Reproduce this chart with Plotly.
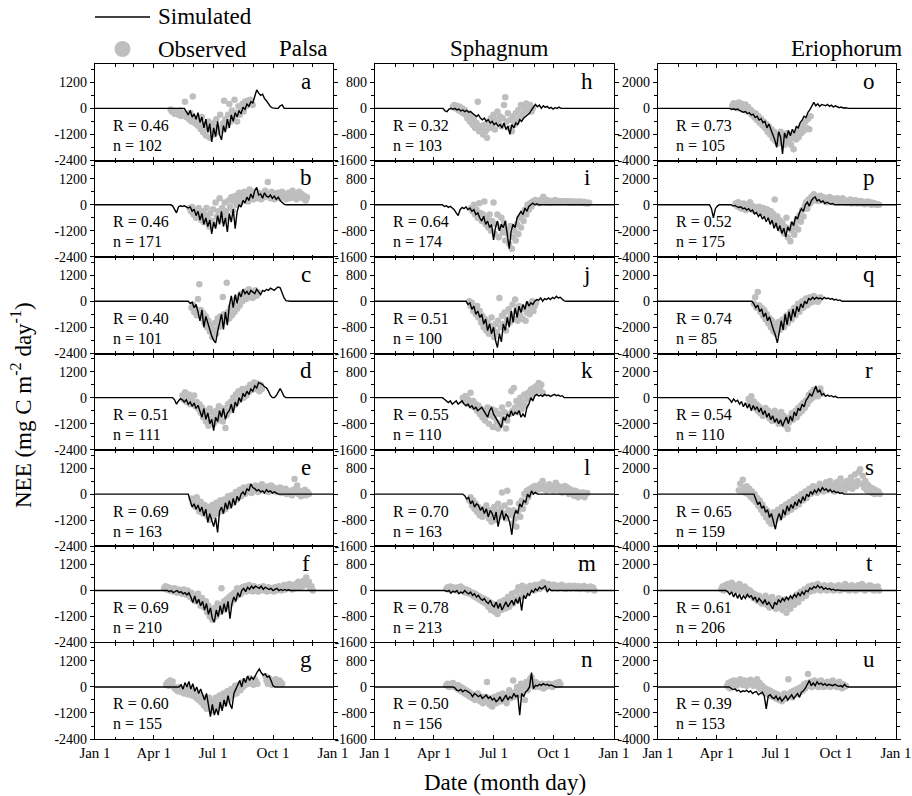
import plotly.graph_objects as go

# ---------------------------------------------------------------- data
# Day-of-year axis
DAY_TICKS = [1, 91, 182, 274, 366]
DAY_LABELS = ["Jan 1", "Apr 1", "Jul 1", "Oct 1", "Jan 1"]
MONTH_STARTS = [32, 60, 121, 152, 213, 244, 305, 335]

SIM_STEP = 3   # days between simulated values
OBS_STEP = 2   # days between observed values

sites = ["Palsa", "Sphagnum", "Eriophorum"]
letters = list("abcdefghijklmnopqrstu")
r_values = [0.46, 0.46, 0.40, 0.51, 0.69, 0.69, 0.60,
            0.32, 0.64, 0.51, 0.55, 0.70, 0.78, 0.50,
            0.73, 0.52, 0.74, 0.54, 0.65, 0.61, 0.39]
n_values = [102, 171, 101, 111, 163, 210, 155,
            103, 174, 100, 110, 163, 213, 156,
            105, 175, 85, 110, 159, 206, 153]

y_ticks = [[-2400, -1200, 0, 1200], [-1600, -800, 0, 800], [-4000, -2000, 0, 2000]]

# --- Palsa
sim_a_start = 138
sim_a = [0, -150, -300, -100, -400, -250, -500, -200, -650, -400, -900, -500, -1100, -700, -1550, -900, -1300, -600,
         -1200, -1450, -800, -1100, -500, -900, -300, -600, -200, -400, -100, -250, 50, -50, 200, 100, 300, 250, 500,
         850, 700, 600, 650, 450, 350, 200, 80, 20, 0, 0, 0, 120, 160, 0]
obs_a_start = 117
obs_a = [-50, -150, -100, -250, -150, -200, -300, -100, -350, -200, -250, 300, -400, -300, -500, -200, -600, 550,
         -450, -700, -550, -800, -650, -950, -400, -1100, -750, -1250, -900, -600, -1350, -1000, -700, -1200, -850,
         -500, -1100, -900, -300, -1000, -700, 350, -500, -800, -300, 200, -600, -100, -400, 400, -200, -600, 100,
         -300, 0, 200, -150, 300, 100, 350, 200, 400, 250, 150]

sim_b_start = 117
sim_b = [0, -50, -200, -370, -100, -50, -80, -50, -100, -150, -100, -300, -200, -500, -300, -700, -400, -900, -600,
         -1000, -700, -1340, -800, -1100, -500, -900, -300, -1000, -600, -1250, -400, -800, -200, -1100, -300, 0, -100,
         200, 100, 350, 200, 500, 300, 650, 800, 450, 500, 300, 550, 400, 350, 450, 300, 400, 250, 350, 200, 100, 30,
         0, 0]
obs_b_start = 146
obs_b = [-150, -300, -100, -450, -250, -600, -350, -150, -500, -700, -300, -800, -450, -150, -650, -1000, -400, -750,
         -200, -900, 100, -550, -300, 300, -700, -150, -450, 100, -300, -600, 200, -100, 350, -250, 150, 400, 0, 250,
         550, 100, 400, 200, 600, 300, 450, 150, 700, 350, 500, 250, 600, 400, 300, 550, 450, 250, 500, 350, 650, 400,
         1050, 500, 300, 600, 400, 250, 500, 350, 550, 300, 450, 600, 350, 500, 250, 450, 550, 300, 400, 650, 350, 500,
         250, 450, 600, 350, 500, 300, 400, 200, 350]

sim_c_start = 144
sim_c = [0, -100, -50, -300, -150, -500, -900, -400, -1200, -700, -1000, -1400, -1600, -1800, -1920, -1400, -1000,
         -600, -1300, -500, -1100, -200, 250, -300, 300, -100, 400, 200, 550, 350, 450, 300, 500, 400, 350, 550, 450,
         300, 500, 450, 550, 500, 600, 550, 500, 600, 650, 620, 400, 150, 30, 0, 0]
obs_c_start = 149
obs_c = [-300, -150, -500, -350, -650, 100, 780, -400, -800, -550, -1000, -700, -1200, -900, -1400, -1100, -1650,
         -1300, -1000, -1500, -800, -1200, -700, -1050, 200, -600, -900, 850, -500, -800, -300, -650, -150, -500, 100,
         -350, 200, -200, 350, 0, 250, 450, 100, 300, 550, 200, 400, 150, 350, 500, 250, 400]

sim_d_start = 120
sim_d = [0, -100, -300, -150, -50, -100, -200, -100, -300, -200, -400, -250, -500, -350, -600, -900, -500, -1000,
         -700, -1200, -1000, -1520, -900, -1100, -600, -900, -500, -1000, -700, -600, -300, -700, -200, -400, 0, -200,
         200, 50, 300, 150, 400, 300, 550, 450, 700, 650, 600, 500, 450, 300, 100, 0, 0, 100, 300, 420, 250, 50, 0]
obs_d_start = 135
obs_d = [100, -100, 250, -200, 0, 150, -300, -100, -250, 100, -400, -200, -500, -300, -700, -450, -900, -600, -1100,
         -800, -1300, -500, -1000, -700, -1200, -850, -600, -1050, -400, -900, -700, -1100, -500, -1400, -800, -300,
         -600, -200, -500, 0, -350, 150, -200, 300, -100, 200, 400, 0, 300, 100, 450, 250, 600, 350, 550, 700, 400,
         650, 500, 300, 600, 400]

sim_e_start = 144
sim_e = [0, -300, -600, -450, -700, -500, -800, -600, -1000, -700, -1300, -900, -1200, -1500, -1100, -1770, -800,
         -600, -900, -400, -700, -300, -650, -200, -500, -100, -300, 0, 100, -50, 250, 150, 470, 300, 250, 150, 200,
         100, 150, 50, 200, 100, 150, 50, 100, 30, 0, 0, 0]
obs_e_start = 149
obs_e = [-200, -400, -300, -600, -150, -500, -800, -350, -650, -900, -500, -750, -1000, -600, -1200, -800, -500,
         -1000, -700, -400, -900, -600, -300, -800, -500, -250, -700, -400, -100, -550, -300, -50, -400, -150, 100,
         -250, 0, 200, -100, 150, 300, 0, 250, 100, 350, 200, 50, 300, 150, 400, 200, 100, 350, 250, 450, 150, 300, 200,
         350, 100, 250, 400, 150, 300, 200, 100, 250, 150, 300, 50, 200, 100, 250, 0, 150, 50, 100, -50, 200, 700, 100,
         400, 0, 150, -100, 50, 0, 200, -50, 100, 0]

sim_f_start = 112
sim_f = [0, -50, 0, -100, -50, 0, -100, -50, -150, -100, -200, -100, -300, -550, -250, -600, -400, -700, -500, -900,
         -600, -1100, -800, -1300, -1460, -900, -1200, -700, -1100, -600, -1000, -500, -1300, -600, -300, -500, -100,
         -300, 0, 100, -50, 150, 50, 200, 100, 200, 150, 100, 200, 50, 150, 100, 50, 100, 0, 50, 100, 0, 50, 0, 50, 0,
         30, 0, 0, 0, 0, 0, 0]
obs_f_start = 107
obs_f = [100, 200, 50, 150, 0, 100, 50, -50, 100, 0, -100, 50, -50, 0, -150, 50, -100, -200, 0, -150, -300, -100,
         -400, -250, -500, -300, -150, -450, -700, -350, -600, -800, -500, -1000, -700, -1200, -900, -1350, -1000, -800,
         -1200, -600, -1000, -700, 100, -900, -500, -800, -400, -700, -300, -600, -200, -450, -100, -300, 100, -200, 50,
         -150, 150, 0, 200, -50, 100, 250, 0, 150, -50, 200, 50, 100, -50, 150, 0, 100, 200, 0, 100, -50, 150, 50, 0,
         100, -50, 150, 0, 50, 200, 100, 0, 150, 250, 50, 150, 100, 300, 150, 50, 250, 100, 300, 200, 400, 150, 300,
         200, 450, 250, 600, 300, 400, 100, 200, 0]

sim_g_start = 130
sim_g = [0, 100, -100, 200, 0, 250, -100, 150, -200, 0, -300, -100, -400, -600, -300, -900, -1370, -800, -1300, -1000,
         -1300, -700, -1100, -600, -900, -400, -800, -1000, -300, -100, 100, 300, 0, 400, 200, 500, 300, 450, 350, 550,
         700, 830, 650, 550, 600, 450, 500, 300, 50, 0]
obs_g_start = 110
obs_g = [100, 200, 50, 300, 150, 250, 0, -100, -50, -200, 0, -150, -250, -100, -300, -150, -200, -350, -100, -250,
         -400, -200, -350, -500, -300, -600, -400, -700, -500, -850, -600, -1000, -750, -500, -900, -650, -1100, -800,
         -500, -950, -700, -400, -850, -600, -300, -750, -500, -200, -600, -350, -100, -400, -200, 50, -300, -100, 100,
         -150, 200, 0, 250, 100, 300, 150, 400, 200, 300, 100, 350, 250, 150, None, None, None, None, None, 500, 300,
         150, 400, 250, 100, 300, 200, 350, 150, 250, 300, 200, 150]

# --- Sphagnum
sim_h_start = 105
sim_h = [0, -80, -100, -20, 0, -30, 0, -50, -20, -80, -50, -100, -60, -120, -100, -150, -200, -250, -200, -300, -350,
         -300, -400, -350, -450, -400, -500, -450, -550, -500, -600, -450, -650, -550, -800, -500, -600, -450, -500,
         -350, -400, -300, -250, -200, -150, -50, 50, 120, 50, 100, 0, 80, 30, 60, 0, 30, -20, 20, 0, 40, 0, 0, 0]
obs_h_start = 120
obs_h = [50, 100, 0, 80, -50, 50, -100, 0, -150, -50, -200, -300, -150, -400, -250, -500, -350, -600, -450, 200, -700,
         -550, -650, -800, -500, -700, -900, -400, -600, -300, -500, -200, -650, -350, -100, -450, -250, -550, -300,
         100, 340, -400, -150, -600, -350, -700, -250, -500, -150, -400, -50, -300, 100, -200, 50, -100, 150, 0, -50,
         100, -100, 0]

sim_i_start = 104
sim_i = [0, -50, -30, -80, -50, -100, -150, -250, -330, -150, -80, -120, -60, -150, -100, -200, -150, -300, -250,
         -400, -500, -350, -600, -500, -700, -600, -1080, -700, -500, -800, -600, -700, -500, -900, -1350, -800, -600,
         -700, -400, -300, -200, -300, -100, -200, -50, 0, 50, 0, 30, 0, 0]
obs_i_start = 148
obs_i = [-100, -200, 0, -300, -150, -400, 50, -250, -500, -300, 100, -600, -400, -700, -300, -800, -500, 70, -900,
         -600, -300, -1000, -700, -400, -850, -550, -1100, -750, -900, -1200, -650, -1350, -1000, -800, -1100, -600,
         -900, -400, -700, -300, -500, -150, -300, 0, -150, 50, -50, 100, 50, 150, 80, 100, 50, 150, 100, 250, 120, 80,
         150, 100, 60, 120, 100, 80, 150, 100, 70, 120, 100, 80, 110, 90, 120, 80, 100, 70, 110, 90, 60, 100, 80, 90,
         70, 100, 60, 80, 90, 50, 70, 40, 60]

sim_j_start = 140
sim_j = [0, -100, -50, -250, -150, -400, -300, -500, -400, -700, -550, -900, -700, -1000, -800, -1200, -1420, -1000,
         -1250, -700, -900, -500, -800, -300, -650, -200, -500, -150, -350, -100, -250, 0, -150, -50, -100, 0, 50, 30,
         100, 0, 80, 50, 100, 50, 120, 80, 150, 100, 120, 60, 10, 0]
obs_j_start = 145
obs_j = [0, -150, -50, -300, -200, -400, -150, -500, -300, -650, -450, -800, -550, -900, -650, -1000, -750, -500,
         -850, -1100, -700, -950, -600, 100, -800, -450, -700, -350, -900, -550, -250, -650, -400, -100, -550, 50, -300,
         -600, -150, -450, -250, -550, -200, -600, -350, -100, -400, -200, 0, -300, -150, -50]

sim_k_start = 104
sim_k = [0, -50, -100, -150, -100, -200, -150, -100, -200, -150, -100, -200, -250, -200, -300, -250, -350, -300, -400,
         -350, -300, -400, -500, -600, -400, -300, -500, -600, -700, -800, -920, -600, -700, -500, -600, -400, -550,
         -450, -500, -400, -600, -500, -600, -300, -200, 0, -100, 50, 100, 50, 80, 40, 100, 60, 80, 40, 70, 100, 60, 80,
         40, 60, 0, 0]
obs_k_start = 135
obs_k = [0, -100, 50, -150, -50, -200, 150, -250, -100, -300, -200, -400, -250, -500, -350, -600, -400, -700, -500,
         -300, -800, -550, -350, -900, -600, -400, -750, -950, -500, -800, -300, -650, -450, -950, -700, -200, -500,
         200, -400, 300, -300, -100, -450, -200, 0, -350, -150, 100, -250, -50, 150, 0, 250, 100, 300, 150, 350, 200,
         450, 250, 400, 150]

sim_l_start = 135
sim_l = [0, -50, -150, -100, -300, -200, -400, -300, -350, -500, -400, -600, -450, -700, -500, -600, -800, -550,
         -1000, -700, -500, -800, -600, -700, -900, -1250, -700, -500, -600, -300, -400, -200, -250, 0, -100, 100, 0,
         50, 0, 0, 0]
obs_l_start = 145
obs_l = [-200, -100, -350, -200, -450, -300, -550, -400, -650, -500, -700, -450, -600, -350, -550, -750, -500, -850,
         -600, -400, -800, -550, -300, -700, -450, 50, -600, -350, -750, 100, -500, -250, -650, -900, -500, -750, -1000,
         -550, -300, -700, -200, -450, 0, -250, 100, -100, 150, 50, 200, 100, 250, 100, 200, 150, 300, 200, 400, 150,
         250, 100, 200, 300, 150, 250, 100, 200, 350, 150, 250, 100, 200, 50, 150, 250, 100, 200, 0, 150, 50, 100, -50,
         100, 0, -100, 50, -50, 0, 50, -100, 0, 30]

sim_m_start = 108
sim_m = [0, -30, 0, -80, -20, -50, 0, -100, -50, -80, 0, -60, -100, -50, -150, -100, -200, -150, -250, -300, -250,
         -350, -400, -300, -450, -500, -350, -550, -400, -600, -450, -350, -500, -400, -300, -450, -250, -400, -200,
         -615, -150, -250, -100, -150, 0, -50, 50, 0, 100, 50, 80, 150, -50, 50, 0, 0]
obs_m_start = 110
obs_m = [50, 100, 30, 120, 60, 100, 40, 80, 0, 100, 50, 120, 0, 60, -50, 30, -80, 0, -100, -50, -150, -80, -200, -120,
         -250, -180, -300, -220, -350, -250, -400, -300, -500, -350, -600, -400, -500, -650, -450, -720, -550, -350,
         -600, -450, -300, -550, -400, -200, -500, -300, -100, -400, -250, -50, -300, 100, -200, 0, 150, -150, 50, -100,
         100, 0, 150, 50, 120, 0, 180, 80, 150, 50, 200, 100, 250, 120, 180, 80, 200, 120, 160, 60, 180, 100, 150, 60,
         140, 100, 180, 80, 130, 50, 120, 80, 150, 60, 120, 90, 150, 60, 100, 130, 50, 110, 80, 140, 60, 100, 30, 80,
         120, 50, 90, 0]

sim_n_start = 105
sim_n = [0, 0, 0, 0, 0, 0, -30, -100, -120, -80, -150, -100, -120, -150, -200, -300, -200, -250, -300, -250, -350,
         -300, -250, -350, -300, -400, -350, -450, -400, -300, -450, -350, -250, -400, -300, -350, -200, -300, -250,
         -870, -200, -300, -150, -100, 0, 443, -50, 50, 30, 80, 50, 100, 60, 80, 40, 60, 30, 0, 0]
obs_n_start = 110
obs_n = [50, 100, 0, 80, 50, 120, 0, 60, -50, 50, -100, 0, -150, -50, -200, -100, -250, -150, -300, -200, -350, -250,
         -400, -300, -200, -350, -450, -300, -500, -400, -300, 150, -450, -550, -350, -600, -450, -300, -500, -400,
         -250, -450, -350, -200, -400, -300, -500, -250, -100, -350, -200, 200, -300, -150, 0, -250, -100, 100, -200, 0,
         -400, 150, -100, 50, 250, 300, 100, 0, 150, 50, 100, 0, 50, 100, -50, 80, 0, 60, 100, 30, 80, 0, 50, 100, 120,
         60, 150, 80]

# --- Eriophorum
sim_o_start = 105
sim_o = [0, -50, 0, -80, -30, -100, -50, -150, -200, -300, -250, -400, -350, -500, -450, -700, -600, -900, -800, -1100,
         -1000, -1500, -1200, -1700, -2000, -2400, -3000, -1800, -2200, -3500, -1900, -2300, -1700, -2100, -1600, -1900,
         -1400, -1500, -1100, -900, -600, -700, -300, -100, 200, 460, 200, 350, 150, 300, 250, 200, 300, 150, 250, 100,
         200, 150, 50, 100, 30, 50, 0, 0]
obs_o_start = 115
obs_o = [200, 400, 100, 300, 0, 450, 150, 350, -100, 200, 300, -200, 100, -300, -100, -500, -300, -700, -400, -900,
         -600, -1100, -800, -1300, -1000, -1500, -1200, -1800, -1400, -2000, -1600, -2300, -1800, -2500, -2000, -2700,
         -2200, -1800, -2400, -2000, -2800, -2300, -1900, -2500, -2100, -2800, -2300, -3150, -2000, -2400, -1700, -2200,
         -1500, -1900, -1300, -1700, -1000, -1500, -800, -1600, -600]

sim_p_start = 80
sim_p = [0, -300, -1000, -300, -100, 0, 0, 0, 0, 0, -50, 0, -100, -50, -150, -200, -150, -300, -250, -400, -300, -500,
         -400, -700, -600, -900, -700, -1100, -900, -1300, -1000, -1500, -1200, -1800, -1400, -2000, -1600, -2200,
         -1800, -2460, -1700, -2000, -1300, -1600, -900, -1100, -600, -300, -500, 0, 200, -100, 300, 500, 600, 300, 400,
         200, 300, 100, 200, 100, 50, 100, 0, 0]
obs_p_start = 120
obs_p = [100, -100, 200, -200, 0, -300, 100, -150, -400, 0, -250, 200, -350, -100, -450, -200, -300, -500, -150, -400,
         -600, -250, -500, -700, -350, -600, -900, -500, -1100, -700, 400, -1300, -900, -1600, -1200, -1900, -1400,
         -2200, -1700, -1000, -2500, -1800, -2800, -2000, -1500, -2300, -1700, -1200, -1900, -800, -1300, -400, -900,
         -100, 200, -300, 400, 100, 600, 300, 800, 400, 600, 300, 500, 700, 400, 600, 300, 500, 200, 400, 600, 300, 500,
         200, 400, 300, 500, 200, 400, 300, 500, 200, 350, 150, 300, 200, 400, 100, 300, 200, 350, 100, 250, 150, 300,
         100, 200, 50, 150, 250, 100, 200, 0, 150, 50, 100, 0, 50, 0]

sim_q_start = 145
sim_q = [0, -200, -500, -300, -800, -600, -1200, -900, -1500, -1200, -1800, -2200, -2600, -3200, -2400, -1500, -2200,
         -1000, -1800, -800, -1500, -600, -1200, -400, -800, -200, -500, 0, -200, 200, 100, 300, 150, 300, 200, 250, 150,
         300, 200, 250, 150, 200, 100, 150, 50, 100, 0, 0]
obs_q_start = 148
obs_q = [-200, 300, -500, 700, -300, -800, -500, -1100, -700, -1400, -1000, -1700, -1300, -2000, -1500, -2300, -1800,
         -2500, -2000, -1600, -2200, -1800, -1400, -2000, -1500, -1100, -1700, -1200, -800, -1400, -900, -500, -1100,
         -600, -200, -800, -400, 0, -500, -200, 200, -300, 0, 300, -100, 100, 400, 0, 200, -50, 100, 300]

sim_r_start = 108
sim_r = [0, -150, -350, -100, -300, -200, -500, -300, -700, -400, -800, -500, -1000, -600, -900, -700, -1100, -800,
         -1300, -1000, -1500, -1200, -1700, -1400, -1900, -1600, -2000, -1700, -2200, -1800, -1500, -2000, -1400, -1800,
         -1100, -1400, -800, -1000, -500, -700, -200, 0, 300, 100, 600, 900, 400, 600, 200, 300, 100, 200, 100, 150, 50,
         100, 0, 0]
obs_r_start = 140
obs_r = [-100, -400, 100, -600, -300, -800, -500, -1000, -700, -1200, -900, -1400, -1100, -800, -1300, -1000, -1600,
         -1200, -1800, -1400, -1000, -1700, -1300, -2000, -1500, -1100, -1800, -1400, -2100, -1600, -2400, -1900, -1500,
         -1200, -1700, -1300, -1000, -1500, -800, -1200, -600, -1000, -400, -800, -200, -500, 200, -200, 400, 0, 600,
         200, 500, 100, 400, 700, 300]

sim_s_start = 148
sim_s = [0, -400, -800, -600, -1100, -900, -1400, -1200, -1800, -1500, -2200, -2700, -1900, -1500, -2000, -1200, -1600,
         -900, -1300, -800, -1100, -600, -900, -400, -700, -200, -500, 0, -200, 200, 0, 300, 100, 400, 200, 500, 300,
         400, 200, 350, 150, 250, 100, 150, 50, 100, 0, 0]
obs_s_start = 125
obs_s = [300, 800, 200, 1100, 500, 100, 600, 0, 400, -200, 200, -400, 0, -600, -300, -900, -500, -1200, -800, -1500,
         -1100, -1800, -1300, -2100, -1600, -2300, -1900, -1400, -2000, -1600, -1200, -1800, -1400, -1000, -1600, -1200,
         -800, -1400, -1000, -600, -1200, -800, -400, -1000, -600, -200, -800, -400, 0, -500, -100, 200, -300, 100, 400,
         0, 300, 600, 200, 500, 100, 400, 800, 300, 600, 200, 500, 900, 300, 600, 1000, 400, 700, 200, 500, 900, 300,
         600, 1200, 400, 800, 300, 600, 1000, 500, 800, 1300, 400, 900, 1500, 600, 1000, 1700, 1900, 800, 1400, 500,
         1000, 300, 700, 200, 500, 100, 400, 0, 300, 100, 200, 0]

sim_t_start = 105
sim_t = [0, -100, -300, -100, -500, -200, -600, -300, -700, -400, -600, -300, -500, -400, -700, -500, -900, -600, -800,
         -1000, -700, -1100, -900, -1200, -1400, -900, -1100, -700, -900, -600, -800, -500, -700, -400, -600, -300,
         -500, -200, -400, -100, -300, 0, -100, 200, 100, 300, 200, 400, 200, 300, 100, 200, 100, 150, 50, 100, 0, 50,
         0, 0]
obs_t_start = 98
obs_t = [100, 300, 0, 400, 200, 500, 100, 300, 600, 200, 400, 0, 300, 100, 500, -100, 200, 0, 300, -200, 100, -300, 0,
         -400, -200, -600, -300, -500, -800, -400, -700, -1000, -600, -900, -400, -1100, -700, -1300, -900, -500, -1200,
         -800, -1400, -1000, -600, -1300, -900, -1500, -1100, -700, -1700, -1200, -800, -1400, -1000, -600, -1100, -700,
         -300, -900, -500, -100, -600, -200, 100, -400, 0, 300, -100, 200, 400, 0, 300, 100, 500, 200, 0, 300, 100, 400,
         200, 0, 300, 100, 400, 200, 0, 300, 100, 200, 400, 0, 300, 100, 200, 500, 100, 300, 0, 200, 400, 100, 300, 0,
         200, 400, 100, 300, 500, 200, 0, 300, 100, 200, 400, 100, 300, 0, 200, 100, 300, 0]

sim_u_start = 110
sim_u = [0, -100, -200, -150, -300, -250, -400, -300, -350, -250, -400, -300, -500, -400, -350, -600, -500, -400, -700,
         -1690, -700, -600, -800, -900, -700, -1000, -800, -1100, -900, -700, -1000, -800, -600, -900, -700, -500, -800,
         -400, -300, -100, 200, 490, 100, 300, 100, 400, 200, 300, 150, 250, 100, 200, 150, 100, 200, 100, 50, 100, 0,
         200, 50, 0]
obs_u_start = 107
obs_u = [100, 300, -100, 400, 200, 500, 300, 100, 450, 250, 600, 350, 150, 500, 300, 100, 450, 250, 550, 300, 100, 400,
         200, 600, 0, 300, -200, 100, -400, -100, -500, -200, -600, -300, -700, -400, -800, -500, -900, -600, -1000,
         -700, -1100, -800, -500, -900, -600, 600, -700, -400, -800, -300, -600, -200, -500, -100, -400, 0, -300, 200,
         -100, 300, 1000, 100, 400, 0, 300, 500, 100, 400, 0, 300, 500, 200, 0, 300, 100, 400, 200, 0, 300, 500, 100,
         300, 0, 200, 400, 100, -100, 200, 0, 100]

panel_series = {
    "a": (sim_a_start, sim_a, obs_a_start, obs_a), "b": (sim_b_start, sim_b, obs_b_start, obs_b),
    "c": (sim_c_start, sim_c, obs_c_start, obs_c), "d": (sim_d_start, sim_d, obs_d_start, obs_d),
    "e": (sim_e_start, sim_e, obs_e_start, obs_e), "f": (sim_f_start, sim_f, obs_f_start, obs_f),
    "g": (sim_g_start, sim_g, obs_g_start, obs_g), "h": (sim_h_start, sim_h, obs_h_start, obs_h),
    "i": (sim_i_start, sim_i, obs_i_start, obs_i), "j": (sim_j_start, sim_j, obs_j_start, obs_j),
    "k": (sim_k_start, sim_k, obs_k_start, obs_k), "l": (sim_l_start, sim_l, obs_l_start, obs_l),
    "m": (sim_m_start, sim_m, obs_m_start, obs_m), "n": (sim_n_start, sim_n, obs_n_start, obs_n),
    "o": (sim_o_start, sim_o, obs_o_start, obs_o), "p": (sim_p_start, sim_p, obs_p_start, obs_p),
    "q": (sim_q_start, sim_q, obs_q_start, obs_q), "r": (sim_r_start, sim_r, obs_r_start, obs_r),
    "s": (sim_s_start, sim_s, obs_s_start, obs_s), "t": (sim_t_start, sim_t, obs_t_start, obs_t),
    "u": (sim_u_start, sim_u, obs_u_start, obs_u),
}

# ---------------------------------------------------------------- layout
W, H = 912, 796
FONT = "'Liberation Serif', 'Times New Roman', Times, serif"
GREY = "#bebebe"
COL_LEFT = [95, 375, 658]
COL_RIGHT = [333, 614, 896]
ROW_TOP = 64.3
ROW_H = 96.43
Y_TOP_FRAC = 0.846   # upper limit of each y range relative to |lower limit|

fig = go.Figure()
annotations = []
layout = {}

for idx, letter in enumerate(letters):
    col, row = divmod(idx, 7)
    k = idx + 1
    sfx = "" if k == 1 else str(k)
    sim_start, sim_vals, obs_start, obs_vals = panel_series[letter]

    sim_x = [DAY_TICKS[0]] + [sim_start + SIM_STEP * i for i in range(len(sim_vals))] + [DAY_TICKS[-1]]
    sim_y = [0] + sim_vals + [0]
    obs_x = [obs_start + OBS_STEP * i for i in range(len(obs_vals))]

    fig.add_trace(go.Scatter(x=obs_x, y=obs_vals, mode="markers",
                             marker=dict(color=GREY, size=6.5, line=dict(width=0)),
                             xaxis="x" + sfx, yaxis="y" + sfx, showlegend=False, hoverinfo="skip"))
    fig.add_trace(go.Scatter(x=sim_x, y=sim_y, mode="lines",
                             line=dict(color="black", width=1.4),
                             xaxis="x" + sfx, yaxis="y" + sfx, showlegend=False, hoverinfo="skip"))

    top = ROW_TOP + row * ROW_H
    bottom = top + ROW_H
    ticks = y_ticks[col]
    lo = ticks[0]
    hi = -lo * Y_TOP_FRAC
    minor_step = ticks[2] - ticks[1]

    layout["xaxis" + sfx] = dict(
        domain=[COL_LEFT[col] / W, COL_RIGHT[col] / W], anchor="y" + sfx,
        range=[DAY_TICKS[0], DAY_TICKS[-1]], automargin=False,
        tickmode="array", tickvals=DAY_TICKS, ticktext=DAY_LABELS,
        showticklabels=(row == 6),
        ticks="inside", ticklen=4, tickwidth=1.1, tickcolor="black",
        minor=dict(tickmode="array", tickvals=MONTH_STARTS, ticks="inside", ticklen=2.5,
                   tickwidth=1, tickcolor="black"),
        showline=True, linecolor="black", linewidth=1.3, mirror="ticks",
        showgrid=False, zeroline=False,
        tickfont=dict(family=FONT, size=15, color="black"),
    )
    layout["yaxis" + sfx] = dict(
        domain=[1 - bottom / H, 1 - top / H], anchor="x" + sfx,
        range=[lo - 0.003 * (hi - lo), hi], automargin=False,
        tickmode="array", tickvals=ticks, ticktext=[str(v) for v in ticks],
        ticks="outside", ticklen=4, tickwidth=1.1, tickcolor="black",
        minor=dict(tickmode="linear", tick0=0, dtick=minor_step / 2, ticks="outside",
                   ticklen=2.5, tickwidth=1, tickcolor="black"),
        showline=True, linecolor="black", linewidth=1.3, mirror="ticks",
        showgrid=False, zeroline=False,
        tickfont=dict(family=FONT, size=14, color="black"),
    )

    xd, yd = "x" + sfx + " domain", "y" + sfx + " domain"
    annotations.append(dict(text=letter, xref=xd, yref=yd, x=1 - 27 / 238, y=1 - 17 / ROW_H,
                            xanchor="center", yanchor="middle", showarrow=False,
                            font=dict(family=FONT, size=23, color="black")))
    annotations.append(dict(text=f"R = {r_values[idx]:.2f}", xref=xd, yref=yd, x=16 / 238, y=1 - 61 / ROW_H,
                            xanchor="left", yanchor="middle", showarrow=False,
                            font=dict(family=FONT, size=16, color="black")))
    annotations.append(dict(text=f"n = {n_values[idx]}", xref=xd, yref=yd, x=16 / 238, y=1 - 81 / ROW_H,
                            xanchor="left", yanchor="middle", showarrow=False,
                            font=dict(family=FONT, size=16, color="black")))

# Site headings
for name, cx in zip(sites, [303, 499, 846]):
    annotations.append(dict(text=name, xref="paper", yref="paper", x=cx / W, y=1 - 48 / H,
                            xanchor="center", yanchor="middle", showarrow=False,
                            font=dict(family=FONT, size=23, color="black")))

# Axis titles
annotations.append(dict(text="NEE (mg C m<sup>-2</sup> day<sup>-1</sup>)", xref="paper", yref="paper",
                        x=22 / W, y=1 - 405 / H, textangle=-90, xanchor="center", yanchor="middle",
                        showarrow=False, font=dict(family=FONT, size=23, color="black")))
annotations.append(dict(text="Date (month day)", xref="paper", yref="paper",
                        x=505 / W, y=1 - 782 / H, xanchor="center", yanchor="middle",
                        showarrow=False, font=dict(family=FONT, size=23, color="black")))

# Legend
shapes = [
    dict(type="line", xref="paper", yref="paper", x0=95 / W, x1=150 / W, y0=1 - 17 / H, y1=1 - 17 / H,
         line=dict(color="black", width=1.6)),
    dict(type="circle", xref="paper", yref="paper", x0=114.5 / W, x1=130.5 / W,
         y0=1 - 57 / H, y1=1 - 41 / H, fillcolor=GREY, line=dict(width=0)),
]
annotations.append(dict(text="Simulated", xref="paper", yref="paper", x=156 / W, y=1 - 17 / H,
                        xanchor="left", yanchor="middle", showarrow=False,
                        font=dict(family=FONT, size=23, color="black")))
annotations.append(dict(text="Observed", xref="paper", yref="paper", x=156 / W, y=1 - 49 / H,
                        xanchor="left", yanchor="middle", showarrow=False,
                        font=dict(family=FONT, size=23, color="black")))

fig.update_layout(
    width=W, height=H, margin=dict(l=0, r=0, t=0, b=0, pad=0, autoexpand=False),
    paper_bgcolor="white", plot_bgcolor="white",
    font=dict(family=FONT, color="black"),
    annotations=annotations, shapes=shapes,
    **layout,
)

fig.write_html("out.html")
